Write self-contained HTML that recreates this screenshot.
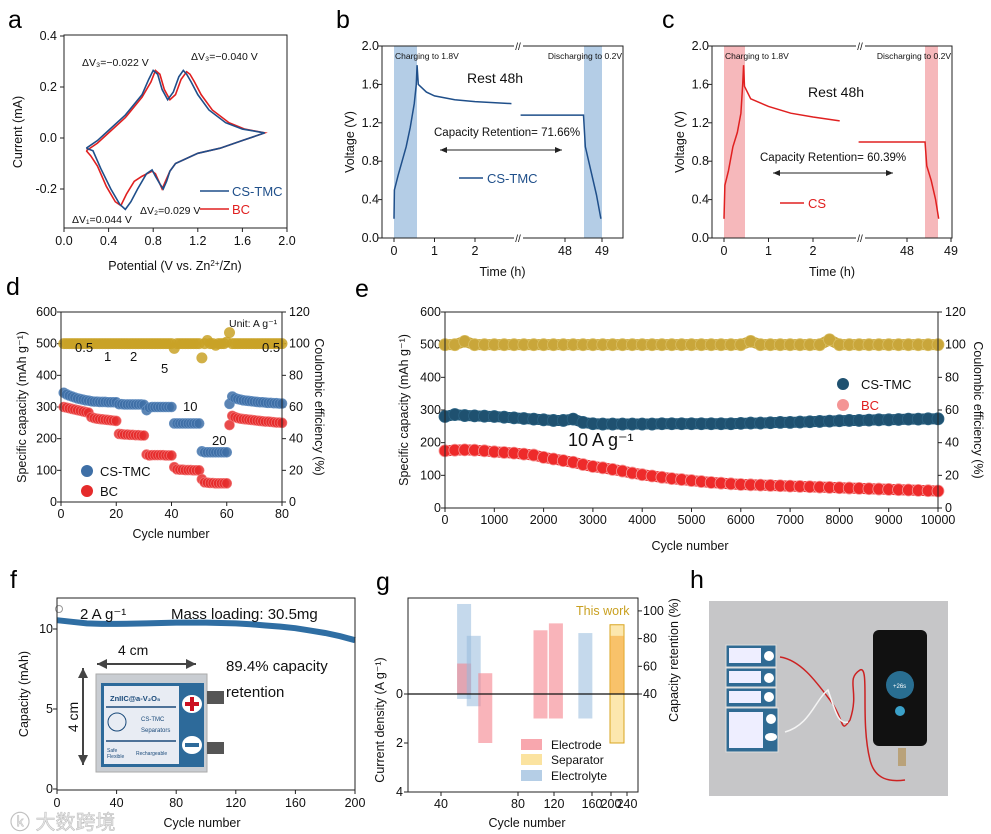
<!DOCTYPE html>
<html><head><meta charset="utf-8">
<style>
html,body{margin:0;padding:0;background:#fff;}
svg{display:block;font-family:"Liberation Sans","Noto Sans CJK SC",sans-serif;}
.pl{font-size:25px;fill:#000;}
</style></head>
<body>
<svg id="fig" width="991" height="834" viewBox="0 0 991 834" xmlns="http://www.w3.org/2000/svg">
<defs>
<marker id="ah" markerWidth="8" markerHeight="8" refX="7" refY="4" orient="auto-start-reverse"><path d="M0,1 L7,4 L0,7 Z" fill="#222"/></marker>
<marker id="ah2" markerWidth="6" markerHeight="6" refX="5" refY="3" orient="auto-start-reverse"><path d="M0,0.5 L5,3 L0,5.5 Z" fill="#444"/></marker>
</defs>

<text class="pl" x="8" y="28">a</text>
<text class="pl" x="336" y="28">b</text>
<text class="pl" x="662" y="28">c</text>
<text class="pl" x="6" y="295">d</text>
<text class="pl" x="355" y="297">e</text>
<text class="pl" x="10" y="588">f</text>
<text class="pl" x="376" y="590">g</text>
<text class="pl" x="690" y="588">h</text>

<g id="pa"></g>
<g id="pb"></g>
<g id="pc"></g>
<g id="pd"></g>
<g id="pe"></g>
<g id="pf"></g>
<g id="pg"></g>

<g>
<rect x="709" y="601" width="239" height="195" fill="#c6c6c8"/>
<g>
<rect x="726" y="645" width="50" height="22" fill="#2f6a93" stroke="#ddd"/><rect x="729" y="648" width="32" height="15" fill="#eef"/><circle cx="769" cy="656" r="5" fill="#fff"/>
<rect x="726" y="668" width="50" height="19" fill="#2f6a93" stroke="#ddd"/><rect x="729" y="671" width="32" height="12" fill="#eef"/><circle cx="769" cy="678" r="5" fill="#fff"/>
<rect x="726" y="688" width="50" height="19" fill="#2f6a93" stroke="#ddd"/><rect x="729" y="691" width="32" height="12" fill="#eef"/><circle cx="769" cy="697" r="5" fill="#fff"/>
<rect x="726" y="708" width="52" height="44" fill="#2f6a93" stroke="#ddd"/><rect x="729" y="712" width="34" height="36" fill="#eef"/><circle cx="771" cy="719" r="5" fill="#fff"/><ellipse cx="771" cy="737" rx="6" ry="4" fill="#fff"/>
</g>
<rect x="873" y="630" width="54" height="116" rx="6" fill="#111"/>
<circle cx="900" cy="685" r="14" fill="#2e7fa8" opacity="0.85"/>
<circle cx="900" cy="711" r="5" fill="#3aa0c8"/>
<text x="893" y="688" font-size="6" fill="#fff">+26s</text>
<path d="M780,657 C800,660 815,680 830,700 C845,720 840,735 850,720 C860,690 845,680 860,670 C870,665 860,720 870,760 C875,780 890,782 905,780" stroke="#c22" stroke-width="1.5" fill="none"/>
<path d="M785,732 C810,725 815,700 828,690 C835,710 838,725 848,722" stroke="#f4f4f4" stroke-width="1.5" fill="none"/>
<rect x="898" y="748" width="8" height="18" fill="#b9a27a"/>
</g>

<text x="10" y="829" font-size="20" fill="#e6e6e6" stroke="#bbb" stroke-width="0.5">ⓚ 大数跨境</text>
</svg>

<script>
const NS='http://www.w3.org/2000/svg';
function mk(tag,parent,attrs){const e=document.createElementNS(NS,tag);for(const k in attrs)e.setAttribute(k,attrs[k]);parent.appendChild(e);return e;}
function txt(parent,x,y,s,size,anchor,extra){const e=mk('text',parent,Object.assign({x:x,y:y,'font-size':size,'text-anchor':anchor||'start',fill:'#111'},extra||{}));e.textContent=s;return e;}

// ================= Panel a data =================
const aXTicks=[0,0.4,0.8,1.2,1.6,2.0];
const aXLabels=['0.0','0.4','0.8','1.2','1.6','2.0'];
const aYTicks=[-0.2,0,0.2,0.4];
const aYLabels=['-0.2','0.0','0.2','0.4'];
const aCsV=[0.2,0.3,0.4,0.55,0.7,0.76,0.8,0.84,0.88,0.93,0.98,1.03,1.07,1.1,1.14,1.2,1.3,1.45,1.6,1.8,1.6,1.4,1.2,1.0,0.95,0.92,0.89,0.86,0.82,0.79,0.74,0.66,0.6,0.55,0.5,0.42,0.33,0.26,0.2];
const aCsI=[-0.04,-0.01,0.03,0.09,0.17,0.23,0.265,0.25,0.19,0.15,0.18,0.24,0.265,0.25,0.22,0.17,0.11,0.06,0.035,0.02,-0.01,-0.04,-0.06,-0.1,-0.13,-0.17,-0.2,-0.18,-0.15,-0.125,-0.14,-0.2,-0.25,-0.28,-0.26,-0.2,-0.12,-0.05,-0.04];
const aBcV=[0.2,0.3,0.4,0.55,0.7,0.78,0.82,0.86,0.9,0.95,1.0,1.05,1.1,1.13,1.17,1.23,1.33,1.48,1.62,1.8,1.6,1.4,1.2,1.0,0.95,0.91,0.88,0.85,0.82,0.79,0.7,0.63,0.56,0.51,0.46,0.38,0.3,0.24,0.2];
const aBcI=[-0.05,-0.02,0.02,0.08,0.16,0.22,0.265,0.25,0.19,0.15,0.17,0.23,0.26,0.25,0.22,0.17,0.11,0.06,0.035,0.02,-0.01,-0.04,-0.06,-0.1,-0.13,-0.17,-0.2,-0.17,-0.14,-0.13,-0.15,-0.17,-0.22,-0.265,-0.25,-0.19,-0.11,-0.07,-0.05];
(function(){
 const g=document.getElementById('pa');
 const X=v=>64+v*111.5, Y=i=>138-i*255;
 const fr=mk('rect',g,{x:64,y:35,width:223,height:193,fill:'none',stroke:'#222','stroke-width':1});
 
 
 aXTicks.forEach((v,k)=>{mk('line',g,{x1:X(v),x2:X(v),y1:228,y2:232,stroke:'#222'});const t=txt(g,X(v),245,aXLabels[k],12.5,'middle');});
 aYTicks.forEach((v,k)=>{mk('line',g,{x1:60,x2:64,y1:Y(v),y2:Y(v),stroke:'#222'});const t=txt(g,57,Y(v)+4,aYLabels[k],12.5,'end');});
 const xl=txt(g,175,270,'Potential (V vs. Zn',12.5,'middle');const s1=mk('tspan',xl,{'baseline-shift':'super','font-size':8});s1.textContent='2+';const s2=mk('tspan',xl,{});s2.textContent='/Zn)';
 
 
 const yl=txt(g,0,0,'Current (mA)',12.5,'middle',{transform:'translate(22,132) rotate(-90)'});
 
 
 const line=(vs,is,col,name)=>{const p=mk('polyline',g,{points:vs.map((v,k)=>X(v)+','+Y(is[k])).join(' '),fill:'none',stroke:col,'stroke-width':1.6});};
 line(aBcV,aBcI,'#e02020','cv-curve-bc');
 line(aCsV,aCsI,'#1f4f8a','cv-curve-cs-tmc');
 txt(g,82,66,'ΔV₃=−0.022 V',10.5);
 txt(g,191,60,'ΔV₃=−0.040 V',10.5);
 txt(g,140,214,'ΔV₂=0.029 V',10.5);
 txt(g,72,223,'ΔV₁=0.044 V',10.5);
 mk('line',g,{x1:200,x2:229,y1:191,y2:191,stroke:'#1f4f8a','stroke-width':1.6});
 const l1=txt(g,232,196,'CS-TMC',13,'start',{fill:'#1f4f8a'});
 mk('line',g,{x1:200,x2:229,y1:209,y2:209,stroke:'#e02020','stroke-width':1.6});
 const l2=txt(g,232,214,'BC',13,'start',{fill:'#e02020'});
})();

// ================= Panels b, c data =================
const bTChg=[0,0.01,0.1,0.2,0.3,0.4,0.5,0.55,0.57,0.6,0.8,1,1.5,2,2.9];
const bVChg=[0.2,0.5,0.65,0.8,0.95,1.15,1.4,1.6,1.8,1.6,1.52,1.48,1.44,1.42,1.40];
const bTDis=[46.8,48.5,48.55,48.7,48.85,48.97];
const bVDis=[1.28,1.28,0.95,0.7,0.45,0.2];
const cTChg=[0,0.02,0.1,0.2,0.3,0.38,0.42,0.44,0.46,0.6,1,1.5,2,2.6];
const cVChg=[0.2,0.55,0.7,0.95,1.1,1.3,1.6,1.8,1.58,1.45,1.37,1.3,1.26,1.22];
const cTDis=[46.9,48.41,48.45,48.55,48.65,48.72];
const cVDis=[1.0,1.0,0.75,0.6,0.4,0.2];
const vTicks=[0,0.4,0.8,1.2,1.6,2.0];
const vLabels=['0.0','0.4','0.8','1.2','1.6','2.0'];
const tTicks=[0,1,2,48,49];
function voltPanel(id,o){
 const g=document.getElementById(id);
 const Y=v=>238-v*96;
 const X=t=>t<10?o.x0+t*o.sl:o.x48+(t-48)*o.sr;
 mk('rect',g,{x:X(0),y:46,width:o.sh1,height:192,fill:o.shade});
 mk('rect',g,{x:o.s2,y:46,width:o.s2w,height:192,fill:o.shade});
 const fr=mk('rect',g,{x:o.L,y:46,width:o.R-o.L,height:192,fill:'none',stroke:'#222'});
 
 
 mk('rect',g,{x:o.brk-4,y:42,width:9,height:8,fill:'#fff'});mk('rect',g,{x:o.brk-4,y:234,width:9,height:8,fill:'#fff'});
 txt(g,o.brk,50,'//',10,'middle');txt(g,o.brk,242,'//',10,'middle');
 vTicks.forEach((v,k)=>{mk('line',g,{x1:o.L-4,x2:o.L,y1:Y(v),y2:Y(v),stroke:'#222'});const t=txt(g,o.L-3,Y(v)+4,vLabels[k],12.5,'end');});
 tTicks.forEach(t=>{mk('line',g,{x1:X(t),x2:X(t),y1:238,y2:242,stroke:'#222'});const e=txt(g,X(t),255,String(t),12.5,'middle');});
 const xl=txt(g,(o.L+o.R)/2,276,'Time (h)',12.5,'middle');
 const yl=txt(g,0,0,'Voltage (V)',12.5,'middle',{transform:'translate('+(o.L-28)+',142) rotate(-90)'});
 const p1=mk('polyline',g,{points:o.tc.map((t,k)=>X(t)+','+Y(o.vc[k])).join(' '),fill:'none',stroke:o.col,'stroke-width':1.5});
 
 
 const p2=mk('polyline',g,{points:o.td.map((t,k)=>X(t)+','+Y(o.vd[k])).join(' '),fill:'none',stroke:o.col,'stroke-width':1.5});
 
 
 txt(g,X(0)+1,59,'Charging to 1.8V',8.5);
 txt(g,o.R-1,59,'Discharging to 0.2V',8.5,'end');
 txt(g,o.rest[0],o.rest[1],'Rest 48h',14);
 txt(g,o.cap[0],o.cap[1],o.capTxt,11.5);
 const ar=mk('line',g,{x1:o.arr[0],x2:o.arr[1],y1:o.arr[2],y2:o.arr[2],stroke:'#222','marker-start':'url(#ah)','marker-end':'url(#ah)'});
 
 
 mk('line',g,{x1:o.leg[0],x2:o.leg[0]+24,y1:o.leg[1],y2:o.leg[1],stroke:o.col,'stroke-width':1.5});
 const lg=txt(g,o.leg[0]+28,o.leg[1]+5,o.legTxt,13,'start',{fill:o.col});
 
 
}
voltPanel('pb',{L:382,R:623,x0:394,sl:40.5,x48:565,sr:37,sh1:23,s2:584,s2w:18,brk:518,shade:'#b4cde6',col:'#1f4f8a',tc:bTChg,vc:bVChg,td:bTDis,vd:bVDis,rest:[467,83],cap:[434,136],capTxt:'Capacity Retention= 71.66%',arr:[440,562,150],leg:[459,178],legTxt:'CS-TMC'});
voltPanel('pc',{L:712,R:952,x0:724,sl:44.5,x48:907,sr:44,sh1:21,s2:925,s2w:13,brk:860,shade:'#f6b8bb',col:'#e02020',tc:cTChg,vc:cVChg,td:cTDis,vd:cVDis,rest:[808,97],cap:[760,161],capTxt:'Capacity Retention= 60.39%',arr:[773,893,173],leg:[780,203],legTxt:'CS'});

// ================= Panel d data =================
const dCycles=[1,2,3,4,5,6,7,8,9,10,11,12,13,14,15,16,17,18,19,20,21,22,23,24,25,26,27,28,29,30,31,32,33,34,35,36,37,38,39,40,41,42,43,44,45,46,47,48,49,50,51,52,53,54,55,56,57,58,59,60,61,62,63,64,65,66,67,68,69,70,71,72,73,74,75,76,77,78,79,80];
const dCs=[345,340,336,333,330,327,325,323,321,320, 318,317,317,316,316,316,315,315,315,315, 309,309,308,308,308,308,308,308,308,307, 290,298,300,300,300,300,300,300,300,300, 248,248,248,248,248,248,248,248,248,248, 160,157,157,157,157,157,157,157,157,157, 310,333,328,325,323,321,320,319,318,317, 316,315,315,314,313,313,312,312,311,311];
const dBc=[300,298,296,294,292,290,288,286,284,282, 268,265,263,262,261,260,259,258,257,256, 215,214,213,213,212,212,211,211,210,210, 150,147,148,148,148,148,148,147,147,147, 110,103,102,102,101,101,101,100,100,100, 72,62,61,60,60,59,59,59,59,59, 243,272,268,265,263,262,261,260,259,258, 257,256,255,254,254,253,252,251,251,250];
const dCe=[100,100,100,100,100,100,100,100,100,100, 100,100,100,100,100,100,100,100,100,100, 100,100,100,100,100,100,100,100,100,100, 100,100,100,100,100,100,100,100,100,100, 97,100,100,100,100,100,100,100,100,100, 91,100,102,100,100,99,100,100,100,101, 107,100,100,100,100,100,100,100,100,100, 100,100,100,100,100,100,100,100,100,100];
const dXTicks=[0,20,40,60,80];
const dYTicks=[0,100,200,300,400,500,600];
const dY2Ticks=[0,20,40,60,80,100,120];
const dRates=['0.5','1','2','5','10','20','0.5'];
const dRatePos=[[75,352],[104,361],[130,361],[161,373],[183,411],[212,445],[262,352]];
(function(){
 const g=document.getElementById('pd');
 const X=c=>61+c*2.7625, Y=v=>502-v*0.31667, Y2=v=>502-v*1.5833;
 dXTicks.forEach(v=>{mk('line',g,{x1:X(v),x2:X(v),y1:502,y2:506,stroke:'#222'});const t=txt(g,X(v),518,String(v),12.5,'middle');});
 dYTicks.forEach(v=>{mk('line',g,{x1:57,x2:61,y1:Y(v),y2:Y(v),stroke:'#222'});const t=txt(g,57,Y(v)+4,String(v),12.5,'end');});
 dY2Ticks.forEach(v=>{mk('line',g,{x1:282,x2:286,y1:Y2(v),y2:Y2(v),stroke:'#222'});const t=txt(g,289,Y2(v)+4,String(v),12.5,'start');});
 dCycles.forEach((c,k)=>{const e=mk('circle',g,{cx:X(c),cy:Y2(dCe[k]),r:5.5,fill:'#c9a227','fill-opacity':0.85});});
 dCycles.forEach((c,k)=>{const e=mk('circle',g,{cx:X(c),cy:Y(dCs[k]),r:5,fill:'#3e6fa6','fill-opacity':0.85,stroke:'#6a94c4','stroke-width':0.6});});
 dCycles.forEach((c,k)=>{const e=mk('circle',g,{cx:X(c),cy:Y(dBc[k]),r:5,fill:'#e52b2b','fill-opacity':0.85,stroke:'#f27b7b','stroke-width':0.6});});
 const fr=mk('rect',g,{x:61,y:312,width:221,height:190,fill:'none',stroke:'#222'});
 
 
 dRates.forEach((r,k)=>{const t=txt(g,dRatePos[k][0],dRatePos[k][1],r,13);});
 txt(g,229,327,'Unit: A g⁻¹',10.5);
 mk('circle',g,{cx:87,cy:471,r:6,fill:'#3e6fa6'});
 const l1=txt(g,100,476,'CS-TMC',13);
 mk('circle',g,{cx:87,cy:491,r:6,fill:'#e52b2b'});
 const l2=txt(g,100,496,'BC',13);
 const xl=txt(g,171,538,'Cycle number',12.5,'middle');
 const yl=txt(g,0,0,'Specific capacity (mAh g⁻¹)',12.5,'middle',{transform:'translate(26,407) rotate(-90)'});
 const y2=txt(g,0,0,'Coulombic efficiency (%)',12.5,'middle',{transform:'translate(315,407) rotate(90)'});
})();

// ================= Panel e data =================
const eCycles=[0,200,400,600,800,1000,1200,1400,1600,1800,2000,2200,2400,2600,2800,3000,3200,3400,3600,3800,4000,4200,4400,4600,4800,5000,5200,5400,5600,5800,6000,6200,6400,6600,6800,7000,7200,7400,7600,7800,8000,8200,8400,8600,8800,9000,9200,9400,9600,9800,10000];
const eCs=[280,286,283,282,281,280,278,276,274,272, 270,268,268,272,262,258,257,257,257,257, 257,257,258,258,258,258,258,258,258,258, 259,260,260,261,262,262,263,264,265,266, 267,268,268,269,270,270,271,272,272,273, 273];
const eBc=[175,177,178,177,175,172,170,168,165,162, 155,150,145,140,133,127,123,118,113,107, 102,98,94,90,87,84,81,78,76,74, 72,71,70,69,68,67,66,65,64,63, 62,61,60,59,58,57,56,55,54,53, 52];
const eCe=[100,100,102,100,100,100,100,100,100,100, 100,100,100,100,100,100,100,100,100,100, 100,100,100,100,100,100,100,100,100,100, 100,102,100,100,100,100,100,100,100,103, 100,100,100,100,100,100,100,100,100,100, 100];
const eXTicks=[0,1000,2000,3000,4000,5000,6000,7000,8000,9000,10000];
const eYTicks=[0,100,200,300,400,500,600];
const eY2Ticks=[0,20,40,60,80,100,120];
(function(){
 const g=document.getElementById('pe');
 const X=c=>445+c*0.0493, Y=v=>508-v*0.32667, Y2=v=>508-v*1.6333;
 eXTicks.forEach(v=>{mk('line',g,{x1:X(v),x2:X(v),y1:508,y2:512,stroke:'#222'});const t=txt(g,X(v),524,String(v),12.5,'middle');});
 eYTicks.forEach(v=>{mk('line',g,{x1:441,x2:445,y1:Y(v),y2:Y(v),stroke:'#222'});const t=txt(g,441,Y(v)+4,String(v),12.5,'end');});
 eY2Ticks.forEach(v=>{mk('line',g,{x1:938,x2:942,y1:Y2(v),y2:Y2(v),stroke:'#222'});const t=txt(g,945,Y2(v)+4,String(v),12.5,'start');});
 const band=(arr,yf,col,name)=>{const p=mk('polyline',g,{points:eCycles.map((c,k)=>X(c)+','+yf(arr[k])).join(' '),fill:'none',stroke:col,'stroke-width':11,'stroke-linejoin':'round','stroke-linecap':'round'});};
 band(eCe,Y2,'#c9a63a','ce-band');
 band(eCs,Y,'#1f5170','cs-tmc-band');
 band(eBc,Y,'#ee2a2a','bc-band');
 eCycles.forEach((c,k)=>{const e=mk('circle',g,{cx:X(c),cy:Y2(eCe[k]),r:6,fill:'#c9a63a',stroke:'#d8bd62','stroke-width':0.8});});
 eCycles.forEach((c,k)=>{const e=mk('circle',g,{cx:X(c),cy:Y(eCs[k]),r:6,fill:'#1f5170',stroke:'#2d6585','stroke-width':0.8});});
 eCycles.forEach((c,k)=>{const e=mk('circle',g,{cx:X(c),cy:Y(eBc[k]),r:6,fill:'#ee2a2a',stroke:'#f59a9a','stroke-width':0.8});});
 const fr=mk('rect',g,{x:445,y:312,width:493,height:196,fill:'none',stroke:'#222'});
 
 
 txt(g,568,446,'10 A g⁻¹',18);
 mk('circle',g,{cx:843,cy:384,r:6,fill:'#1f5170'});
 const l1=txt(g,861,389,'CS-TMC',13);
 mk('circle',g,{cx:843,cy:405,r:6,fill:'#f49595'});
 const l2=txt(g,861,410,'BC',13,'start',{fill:'#e02020'});
 const xl=txt(g,690,550,'Cycle number',12.5,'middle');
 const yl=txt(g,0,0,'Specific capacity (mAh g⁻¹)',12.5,'middle',{transform:'translate(408,410) rotate(-90)'});
 const y2=txt(g,0,0,'Coulombic efficiency (%)',12.5,'middle',{transform:'translate(974,410) rotate(90)'});
})();

// ================= Panel f data =================
const fCycles=[0,10,20,30,40,60,80,100,120,130,140,150,160,170,180,190,200];
const fCap=[10.55,10.45,10.35,10.32,10.32,10.35,10.4,10.4,10.35,10.3,10.22,10.15,10.05,9.9,9.75,9.55,9.3];
const fXTicks=[0,40,80,120,160,200];
const fYTicks=[0,5,10];
(function(){
 const g=document.getElementById('pf');
 const X=c=>57+c*1.49, Y=v=>789-v*16;
 fXTicks.forEach(v=>{mk('line',g,{x1:X(v),x2:X(v),y1:790,y2:794,stroke:'#222'});const t=txt(g,X(v),807,String(v),12.5,'middle');});
 fYTicks.forEach(v=>{mk('line',g,{x1:53,x2:57,y1:Y(v),y2:Y(v),stroke:'#222'});const t=txt(g,53,Y(v)+4,String(v),12.5,'end');});
 const p=mk('polyline',g,{points:fCycles.map((c,k)=>X(c)+','+Y(fCap[k])).join(' '),fill:'none',stroke:'#2f6ea3','stroke-width':6});
 
 
 mk('circle',g,{cx:59,cy:609,r:3.5,fill:'#fff',stroke:'#999'});
 const fr=mk('rect',g,{x:57,y:598,width:298,height:192,fill:'none',stroke:'#222'});
 
 
 txt(g,80,619,'2 A g⁻¹',15);
 txt(g,171,619,'Mass loading: 30.5mg',15);
 txt(g,118,655,'4 cm',14);
 mk('line',g,{x1:97,x2:196,y1:664,y2:664,stroke:'#444','stroke-width':2,'marker-start':'url(#ah2)','marker-end':'url(#ah2)'});
 mk('line',g,{x1:83,x2:83,y1:668,y2:765,stroke:'#444','stroke-width':2,'marker-start':'url(#ah2)','marker-end':'url(#ah2)'});
 txt(g,0,0,'4 cm',14,'middle',{transform:'translate(78,717) rotate(-90)'});
 txt(g,226,671,'89.4% capacity',15);
 txt(g,226,697,'retention',15);
 const b=mk('g',g,{});
 
 
 mk('rect',b,{x:96,y:674,width:111,height:98,fill:'#c9cdd2',stroke:'#aaa'});
 mk('rect',b,{x:207,y:691,width:17,height:13,fill:'#555'});
 mk('rect',b,{x:207,y:742,width:17,height:12,fill:'#555'});
 mk('rect',b,{x:101,y:683,width:103,height:84,fill:'#2d6a9a'});
 mk('rect',b,{x:104,y:686,width:75,height:78,fill:'#e8ecf3'});
 txt(b,110,701,'ZnIIC@a-V₂O₅',7.5,'start',{fill:'#1a4a7a','font-weight':'bold'});
 mk('line',b,{x1:106,x2:176,y1:707,y2:707,stroke:'#1a4a7a','stroke-width':1.5});
 mk('circle',b,{cx:117,cy:722,r:9,fill:'none',stroke:'#1a4a7a'});
 txt(b,141,721,'CS-TMC',6,'start',{fill:'#1a4a7a'});
 txt(b,141,732,'Separators',6,'start',{fill:'#1a4a7a'});
 mk('line',b,{x1:106,x2:176,y1:741,y2:741,stroke:'#1a4a7a','stroke-width':1.5});
 txt(b,107,752,'Safe',5,'start',{fill:'#1a4a7a'});txt(b,107,758,'Flexible',5,'start',{fill:'#1a4a7a'});txt(b,136,755,'Rechargeable',5,'start',{fill:'#1a4a7a'});
 mk('ellipse',b,{cx:192,cy:704,rx:10,ry:9,fill:'#fff'});
 mk('rect',b,{x:185,y:702,width:14,height:4,fill:'#c12'});mk('rect',b,{x:190,y:697,width:4,height:14,fill:'#c12'});
 mk('ellipse',b,{cx:192,cy:745,rx:10,ry:9,fill:'#fff'});
 mk('rect',b,{x:185,y:743,width:14,height:4,fill:'#2d6a9a'});
 const xl=txt(g,202,827,'Cycle number',12.5,'middle');
 const yl=txt(g,0,0,'Capacity (mAh)',12.5,'middle',{transform:'translate(28,694) rotate(-90)'});
})();

// ================= Panel g data =================
const gCycles=[52,52,57,63,105,122,153,215];
const gRetention=[105,62,82,55,86,91,84,90];
const gCurrent=[0.2,0,0.5,2,1,1,1,2];
const gType=['Electrolyte','Electrode','Electrolyte','Electrode','Electrode','Electrode','Electrolyte','Separator'];
const gXTicks=[40,80,120,160,200,240];
const gYTicks=[0,2,4];
const gY2Ticks=[40,60,80,100];
(function(){
 const g=document.getElementById('pg');
 const tickPx=[441,518,554,592,611,627];
 const X=c=>{if(c<=gXTicks[0])return tickPx[0]+(c-gXTicks[0])*(tickPx[1]-tickPx[0])/40;for(let i=0;i<gXTicks.length-1;i++){if(c<=gXTicks[i+1])return tickPx[i]+(c-gXTicks[i])*(tickPx[i+1]-tickPx[i])/(gXTicks[i+1]-gXTicks[i]);}return tickPx[5];};
 const YL=v=>694+v*24.5, YR=r=>694-(r-40)*1.385;
 const colors={Electrolyte:'rgba(150,185,220,0.55)',Electrode:'rgba(245,130,140,0.6)',Separator:'rgba(250,215,120,0.6)'};
 gCycles.forEach((c,k)=>{
  const top=YR(gRetention[k]), bot=YL(gCurrent[k]);
  const r=mk('rect',g,{x:X(c)-7,y:top,width:14,height:bot-top,fill:colors[gType[k]]});
  
  
  if(gType[k]==='Separator'){r.setAttribute('stroke','#d9a520');r.setAttribute('stroke-width','1');mk('rect',g,{x:X(c)-7,y:YR(82),width:14,height:694-YR(82),fill:'rgba(245,170,60,0.6)'});}
 });
 mk('line',g,{x1:408,x2:638,y1:694,y2:694,stroke:'#111','stroke-width':1.2});
 const fr=mk('rect',g,{x:408,y:598,width:230,height:194,fill:'none',stroke:'#222'});
 
 
 gXTicks.forEach((v,k)=>{mk('line',g,{x1:tickPx[k],x2:tickPx[k],y1:792,y2:796,stroke:'#222'});const t=txt(g,tickPx[k],808,String(v),12.5,'middle');});
 gYTicks.forEach(v=>{mk('line',g,{x1:404,x2:408,y1:YL(v),y2:YL(v),stroke:'#222'});const t=txt(g,403,YL(v)+4,String(v),12.5,'end');});
 gY2Ticks.forEach(v=>{mk('line',g,{x1:638,x2:642,y1:YR(v),y2:YR(v),stroke:'#222'});const t=txt(g,643,YR(v)+4,String(v),12.5,'start');});
 txt(g,576,615,'This work',12.5,'start',{fill:'#c9a020'});
 const leg=[['Electrode','rgba(245,130,140,0.7)',744],['Separator','rgba(250,215,120,0.7)',759],['Electrolyte','rgba(150,185,220,0.7)',775]];
 leg.forEach(l=>{mk('rect',g,{x:521,y:l[2]-5,width:21,height:11,fill:l[1]});const t=txt(g,551,l[2]+5,l[0],12);});
 const xl=txt(g,527,827,'Cycle number',12.5,'middle');
 const yl=txt(g,0,0,'Current density (A g⁻¹)',12.5,'middle',{transform:'translate(384,720) rotate(-90)'});
 const y2=txt(g,0,0,'Capacity retention (%)',12.5,'middle',{transform:'translate(678,660) rotate(-90)'});
})();
</script>
</body></html>
